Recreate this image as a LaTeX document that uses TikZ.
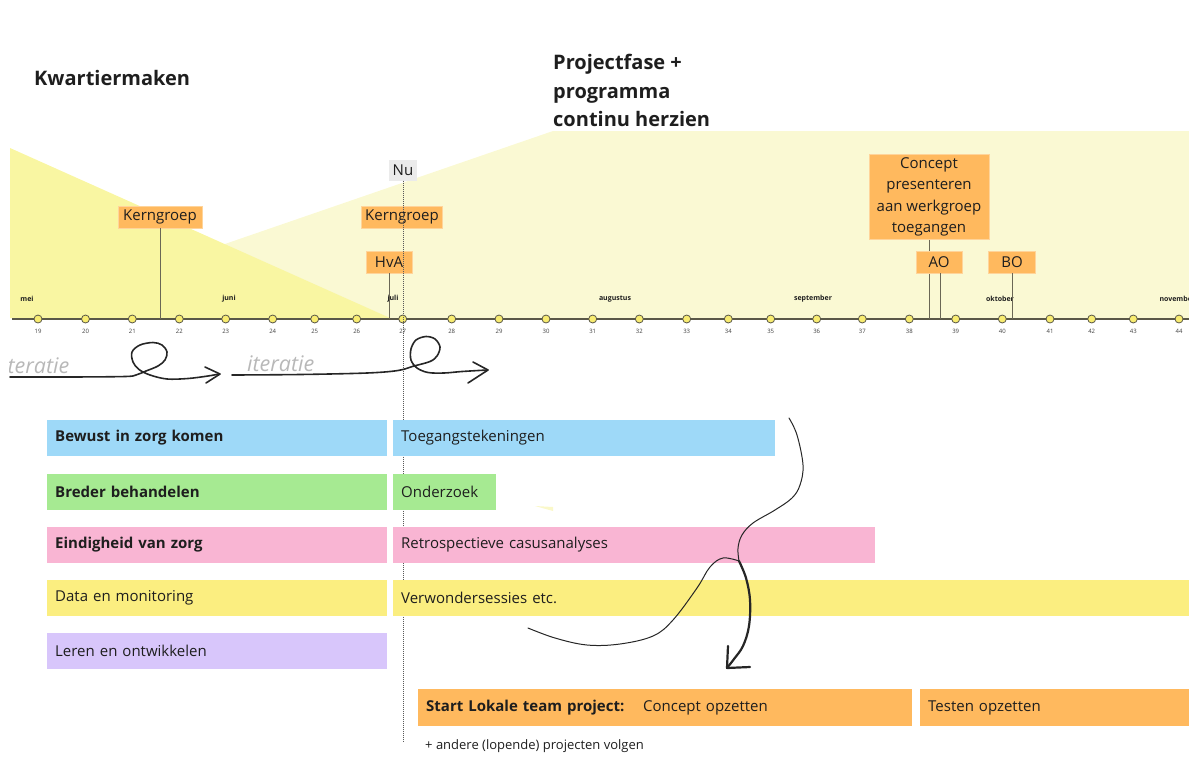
\documentclass[tikz,border=0pt]{standalone}
\usepackage{fontspec}
\setmainfont{Open Sans}
\definecolor{paleY}{HTML}{FAF9D3}
\definecolor{brightY}{HTML}{F9F6A2}
\definecolor{tagO}{HTML}{FFB95E}
\definecolor{tagOL}{HTML}{FFD49A}
\definecolor{nuG}{HTML}{EBEBEB}
\definecolor{dotY}{HTML}{F8EC70}
\definecolor{axisC}{HTML}{5A5848}
\definecolor{rowB}{HTML}{9ED9F8}
\definecolor{rowG}{HTML}{A6EA92}
\definecolor{rowP}{HTML}{F9B5D3}
\definecolor{rowY}{HTML}{FBEE80}
\definecolor{rowV}{HTML}{D8C6FB}
\definecolor{txt}{HTML}{1E1E1E}
\definecolor{iterG}{HTML}{B8B8B8}
\definecolor{mlineC}{HTML}{6A6755}
\begin{document}
\begin{tikzpicture}[x=1pt,y=-1pt,
  tag/.style={fill=tagO, draw=tagOL, line width=0.8pt, font=\fontsize{15}{21.5}\selectfont, text=txt, inner xsep=4pt, inner ysep=0pt, minimum height=22pt, align=center},
  nubox/.style={fill=nuG, font=\fontsize{15}{18}\selectfont, text=txt, inner xsep=4pt, inner ysep=0pt, minimum height=21pt},
  mline/.style={draw=mlineC, line width=0.9pt},
  nuline/.style={draw=black!65, line width=1pt, dash pattern=on 1pt off 1pt},
  wdot/.style={circle, fill=dotY, draw=axisC, line width=0.8pt, minimum size=8pt, inner sep=0pt},
  wlab/.style={font=\fontsize{6}{7}\selectfont, text=black!75},
  mlab/.style={font=\fontsize{7}{8}\selectfont\bfseries, text=txt},
  rowbox/.style={anchor=west, minimum height=36pt, inner xsep=8pt, inner ysep=0pt, align=left, font=\fontsize{15}{18}\selectfont, text=txt},
  head/.style={font=\fontsize{20}{28.5}\selectfont\bfseries, text=txt, inner sep=0pt, align=left},
  iter/.style={font=\fontsize{21.5}{24}\selectfont\itshape, text=iterG, inner sep=0pt},
  hand/.style={draw=black!85, line width=1.6pt, line cap=round, line join=round},
  thin/.style={draw=black!85, line width=1pt, line cap=round, line join=round}
]
\useasboundingbox (0,0) rectangle (1189,756);
\begin{scope}
\clip (9,0) rectangle (1189,756);
% background phases
\fill[paleY] (10,318) -- (553,131) -- (1189,131) -- (1189,318) -- cycle;
\fill[brightY] (10,148) -- (390,318) -- (10,318) -- cycle;
\fill[paleY!80!brightY] (535,506) -- (553,507) -- (553,511) -- cycle;

% headings
\node[head, anchor=base west] (kw) at (34,85) {Kwartiermaken};
\node[head, anchor=north west] (pf) at (553,54) {Projectfase +\\programma\\continu herzien};

% axis
\coordinate (axL) at (12,319);
\coordinate (axR) at (1189,319);
\draw[axisC, line width=1.5pt] (axL) -- (axR);
\foreach \w/\x in {19/38,20/85.5,21/132.3,22/179.3,23/225.7,24/272.7,25/314.7,26/356.7,27/402.7,28/451.7,29/499,30/546,31/592.7,32/639.3,33/686.7,34/728.3,35/770.7,36/816.7,37/862.3,38/909.3,39/955.7,40/1002.3,41/1050,42/1091.7,43/1133.3,44/1179}{
  \node[wdot] (w\w) at (\x,319) {};
  \node[wlab] (wl\w) at (\x,331) {\w};
}
\node[mlab] (mei) at (27,299) {mei};
\node[mlab] (jun) at (229,299) {juni};
\node[mlab] (jul) at (393,299) {juli};
\node[mlab] (aug) at (615,299) {augustus};
\node[mlab] (sep) at (813,299) {september};
\node[mlab] (okt) at (1000,299) {oktober};
\node[mlab, anchor=west] (nov) at (1156,299) {november};

% markers
\coordinate (kg1a) at (160,319);
\coordinate (hvaa) at (389,319);
\coordinate (cpa) at (929,319);
\coordinate (aoa) at (940,319);
\coordinate (boa) at (1012,319);
\node[tag, minimum width=84pt] (kg1) at (160,217) {Kerngroep};
\draw[mline] (kg1.south) -- (kg1a);
\node[tag, minimum width=80pt] (kg2) at (402,217) {Kerngroep};
\node[tag, minimum width=46pt] (hva) at (389,262) {HvA};
\draw[mline] (hva.south) -- (hvaa);
\node[tag, minimum width=120pt, minimum height=85pt] (cp) at (929,197) {Concept\\presenteren\\aan werkgroep\\toegangen};
\draw[mline] (cp.south) -- (cpa);
\node[tag, minimum width=46pt] (ao) at (939,262) {AO};
\draw[mline] (ao.south -| aoa) -- (aoa);
\node[tag, minimum width=47pt] (bo) at (1012,262) {BO};
\draw[mline] (bo.south) -- (boa);
\node[nubox] (nu) at (403,170) {Nu};
\coordinate (nuend) at (403,742);
\draw[nuline] (nu.south) -- (nuend);

% iteratie arrows
\node[iter, anchor=base west] (it1) at (2,373) {iteratie};
\node[iter, anchor=base west] (it2) at (247,371) {iteratie};
\draw[hand] plot[smooth, tension=0.55] coordinates {(10,377) (70,377) (125,376.5) (136,375) (146,371) (158,366) (165,360) (167,352) (162,345) (153,342.5) (140,345) (132,352) (133,362) (139,369.5) (150,375) (167,379) (188,378.5) (208,376) (219,374)};
\draw[hand] (205,367) -- (220,374) -- (206,383);
\draw[hand] plot[smooth, tension=0.55] coordinates {(232,375) (300,374.5) (367,373) (398,370.5) (414,366) (430,361.5) (437,356) (440,347) (435,339) (426,336.5) (416,340) (411,349) (411,360) (417,368) (428,372.5) (444,373) (462,371.5) (487,370)};
\draw[hand] (473,362) -- (488,370) -- (468,383);

% rows
\node[rowbox, fill=rowB, text width=324pt] (r1l) at (47,438) {\bfseries Bewust in zorg komen};
\node[rowbox, fill=rowB, text width=366pt] (r1r) at (393,438) {Toegangstekeningen};
\node[rowbox, fill=rowG, text width=324pt] (r2l) at (47,491.5) {\bfseries Breder behandelen};
\node[rowbox, fill=rowG, text width=87pt] (r2r) at (393,491.5) {Onderzoek};
\node[rowbox, fill=rowP, text width=324pt] (r3l) at (47,545) {\bfseries Eindigheid van zorg};
\node[rowbox, fill=rowP, text width=466pt] (r3r) at (393,545) {Retrospectieve casusanalyses};
\node[rowbox, fill=rowY, text width=324pt] (r4l) at (47,598) {Data en monitoring};
\node[rowbox, fill=rowY, text width=780pt] (r4r) at (393,598) {Verwondersessies etc.};
\node[rowbox, fill=rowV, text width=324pt] (r5l) at (47,651) {Leren en ontwikkelen};

% bottom project
\node[rowbox, fill=tagO, minimum height=37pt, text width=478pt] (p1) at (418,707.5) {\makebox[217pt][l]{\bfseries Start Lokale team project:}Concept opzetten};
\node[rowbox, fill=tagO, minimum height=37pt, text width=253pt] (p2) at (920,707.5) {Testen opzetten};
\node[anchor=west, inner sep=0pt, font=\fontsize{13}{14}\selectfont, text=txt] (and) at (425,746) {+ andere (lopende) projecten volgen};

% hand-drawn curve and arrow
\coordinate (kink) at (739,561);
\draw[thin] plot[smooth, tension=0.6] coordinates {(789,418) (797,435) (803,465) (800,485) (792,498) (775,510) (753,523) (742,535) (738,548) (kink)};
\draw[thin] plot[smooth, tension=0.6] coordinates {(kink) (723,558) (710,567) (697,588) (673,620) (653,636) (620,644) (587,645) (555,638) (528,628)};
\coordinate (tip) at (727,668);
\draw[hand, line width=2.2pt] plot[smooth, tension=0.6] coordinates {(kink) (746,578) (750,600) (749,626) (743,646) (734,659) (tip)};
\draw[hand, line width=2.2pt] (728,646) -- (tip) -- (750,667);
\end{scope}
\end{tikzpicture}
\end{document}
